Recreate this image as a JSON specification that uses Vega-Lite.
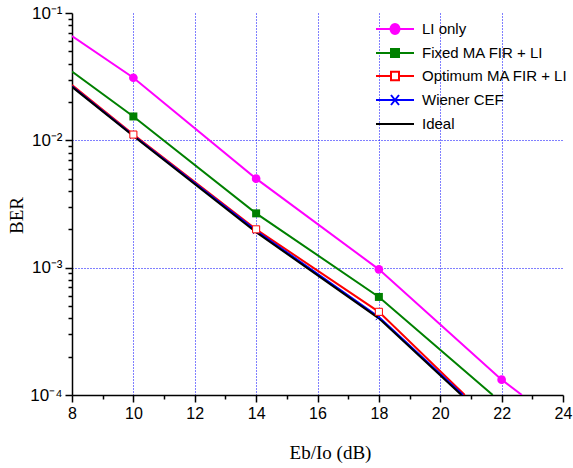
{
  "$schema": "https://vega.github.io/schema/vega-lite/v6.json",
  "width": 491,
  "height": 382,
  "autosize": {"type": "none"},
  "padding": {"left": 72, "top": 13, "right": 10, "bottom": 73},
  "background": "white",
  "config": {"view": {"stroke": null}},
  "data": {"values": [
    {"s": "LI only", "x": 8, "ber": 0.066},
    {"s": "LI only", "x": 10, "ber": 0.031},
    {"s": "LI only", "x": 14, "ber": 0.0050},
    {"s": "LI only", "x": 18, "ber": 0.00097},
    {"s": "LI only", "x": 22, "ber": 0.000132},
    {"s": "LI only", "x": 22.66, "ber": 0.0001},
    {"s": "Fixed MA FIR + LI", "x": 8, "ber": 0.0347},
    {"s": "Fixed MA FIR + LI", "x": 10, "ber": 0.0154},
    {"s": "Fixed MA FIR + LI", "x": 14, "ber": 0.00267},
    {"s": "Fixed MA FIR + LI", "x": 18, "ber": 0.000589},
    {"s": "Fixed MA FIR + LI", "x": 21.71, "ber": 0.0001},
    {"s": "Optimum MA FIR + LI", "x": 8, "ber": 0.0272},
    {"s": "Optimum MA FIR + LI", "x": 10, "ber": 0.0111},
    {"s": "Optimum MA FIR + LI", "x": 14, "ber": 0.0020},
    {"s": "Optimum MA FIR + LI", "x": 18, "ber": 0.00045},
    {"s": "Optimum MA FIR + LI", "x": 20.8, "ber": 0.0001},
    {"s": "Wiener CEF", "x": 8, "ber": 0.0266},
    {"s": "Wiener CEF", "x": 10, "ber": 0.0109},
    {"s": "Wiener CEF", "x": 14, "ber": 0.00195},
    {"s": "Wiener CEF", "x": 18, "ber": 0.00041},
    {"s": "Wiener CEF", "x": 20.74, "ber": 0.0001},
    {"s": "Ideal", "x": 8, "ber": 0.0263},
    {"s": "Ideal", "x": 10, "ber": 0.0108},
    {"s": "Ideal", "x": 14, "ber": 0.0019},
    {"s": "Ideal", "x": 18, "ber": 0.0004},
    {"s": "Ideal", "x": 20.69, "ber": 0.0001}
  ]},
  "encoding": {
    "x": {
      "field": "x", "type": "quantitative",
      "scale": {"domain": [8, 24], "nice": false, "zero": false},
      "axis": {
        "title": "Eb/Io (dB)",
        "titleFont": "Liberation Serif", "titleFontSize": 19, "titleFontWeight": "normal", "titleColor": "black",
        "titleX": 258, "titleY": 57, "titleBaseline": "middle", "titleAlign": "center", "titleAnchor": null,
        "values": [8,9,10,11,12,13,14,15,16,17,18,19,20,21,22,23,24],
        "labelExpr": "datum.value % 2 == 0 ? datum.label : ''",
        "labelOverlap": false, "labelFlush": false, "labelBound": false,
        "labelFont": "Liberation Sans", "labelFontSize": 16, "labelColor": "black", "labelPadding": 3,
        "domainColor": "black", "domainWidth": 1.5,
        "tickColor": "black", "tickWidth": 1.5,
        "tickSize": {"condition": {"test": "datum.value % 2 == 0", "value": 7}, "value": 4},
        "grid": true, "gridColor": "#0000FF", "gridDash": [1, 2], "gridWidth": 1,
        "gridOpacity": {"condition": {"test": "datum.value % 2 == 0 && datum.value > 8 && datum.value < 24", "value": 1}, "value": 0}
      }
    },
    "y": {
      "field": "ber", "type": "quantitative",
      "scale": {"type": "log", "domain": [0.0001, 0.1], "nice": false},
      "axis": {
        "title": "BER",
        "titleFont": "Liberation Serif", "titleFontSize": 19, "titleFontWeight": "normal", "titleColor": "black",
        "titleX": -56, "titleY": 202, "titleBaseline": "middle", "titleAlign": "center", "titleAngle": -90, "titleAnchor": null,
        "values": [0.0001,0.0002,0.0003,0.0004,0.0005,0.0006,0.0007,0.0008,0.0009,0.001,0.002,0.003,0.004,0.005,0.006,0.007,0.008,0.009,0.01,0.02,0.03,0.04,0.05,0.06,0.07,0.08,0.09,0.1],
        "labelExpr": "datum.value == 0.1 ? '10⁻¹' : datum.value == 0.01 ? '10⁻²' : datum.value == 0.001 ? '10⁻³' : datum.value == 0.0001 ? '10⁻⁴' : ''",
        "labelOverlap": false, "labelFlush": false, "labelBound": false,
        "labelFont": "Liberation Sans", "labelFontSize": 17, "labelColor": "black", "labelPadding": 3,
        "domainColor": "black", "domainWidth": 1.5,
        "tickColor": "black", "tickWidth": 1.5,
        "tickSize": {"condition": {"test": "datum.value == 0.1 || datum.value == 0.01 || datum.value == 0.001 || datum.value == 0.0001", "value": 7}, "value": 4},
        "grid": true, "gridColor": "#0000FF", "gridDash": [1, 2], "gridWidth": 1,
        "gridOpacity": {"condition": {"test": "datum.value == 0.01 || datum.value == 0.001", "value": 1}, "value": 0}
      }
    }
  },
  "layer": [
    {
      "mark": {"type": "line", "strokeWidth": 2, "clip": true},
      "encoding": {
        "stroke": {
          "field": "s", "type": "nominal",
          "scale": {"domain": ["LI only", "Fixed MA FIR + LI", "Optimum MA FIR + LI", "Wiener CEF", "Ideal"],
                    "range": ["#FF00FF", "#008000", "#FF0000", "#0000FF", "#000000"]}
        },
        "order": {"field": "x"}
      }
    },
    {
      "transform": [{"filter": "datum.s == 'LI only' && (datum.x == 10 || datum.x == 14 || datum.x == 18 || datum.x == 22)"}],
      "mark": {"type": "point", "shape": "circle", "filled": true, "color": "#FF00FF", "size": 75, "opacity": 1}
    },
    {
      "transform": [{"filter": "datum.s == 'Fixed MA FIR + LI' && (datum.x == 10 || datum.x == 14 || datum.x == 18 || datum.x == 22)"}],
      "mark": {"type": "point", "shape": "square", "filled": true, "color": "#008000", "size": 64, "opacity": 1}
    },
    {
      "transform": [{"filter": "datum.s == 'Wiener CEF' && (datum.x == 10 || datum.x == 14 || datum.x == 18 || datum.x == 22)"}],
      "mark": {"type": "point", "shape": "M-1,-1L1,1M-1,1L1,-1", "filled": false, "stroke": "#0000FF", "strokeWidth": 1, "size": 40, "opacity": 1}
    },
    {
      "transform": [{"filter": "datum.s == 'Optimum MA FIR + LI' && (datum.x == 10 || datum.x == 14 || datum.x == 18 || datum.x == 22)"}],
      "mark": {"type": "point", "shape": "square", "filled": false, "fill": "white", "fillOpacity": 1, "stroke": "#FF0000", "strokeWidth": 1, "size": 50, "opacity": 1}
    },
    {
      "transform": [{"filter": "datum.x == 8"}],
      "mark": {"type": "point", "filled": true, "strokeWidth": 2, "opacity": 0},
      "encoding": {
        "shape": {
          "field": "s", "type": "nominal",
          "scale": {"domain": ["LI only", "Fixed MA FIR + LI", "Optimum MA FIR + LI", "Wiener CEF", "Ideal"],
                    "range": [
                      "M-1.9,0H1.9M0.45,0A0.45,0.5,0,1,1,-0.45,0A0.45,0.5,0,1,1,0.45,0Z",
                      "M-1.9,0H1.9M-0.4,-0.4H0.4V0.4H-0.4Z",
                      "M-1.9,0H-0.4M0.4,0H1.9M-0.4,-0.42H0.4V0.42H-0.4Z",
                      "M-1.9,0H1.9M-0.4,-0.5L0.4,0.5M-0.4,0.5L0.4,-0.5",
                      "M-1.9,0H1.9"
                    ]},
          "legend": {
            "title": null, "orient": "none", "legendX": 312, "legendY": 5,
            "symbolSize": 400, "symbolStrokeWidth": 2, "symbolOpacity": 1,
            "labelFont": "Liberation Sans", "labelFontSize": 15, "labelColor": "black",
            "labelOffset": 16, "rowPadding": 4, "labelLimit": 300,
            "encoding": {"symbols": {"update": {"fill": {"scale": "fill", "field": "value"}, "fillOpacity": {"value": 1}}}}
          }
        },
        "stroke": {
          "field": "s", "type": "nominal"
        },
        "fill": {
          "field": "s", "type": "nominal",
          "scale": {"domain": ["LI only", "Fixed MA FIR + LI", "Optimum MA FIR + LI", "Wiener CEF", "Ideal"],
                    "range": ["#FF00FF", "#008000", "#FFFFFF", "#0000FF", "#000000"]}
        }
      }
    }
  ]
}
